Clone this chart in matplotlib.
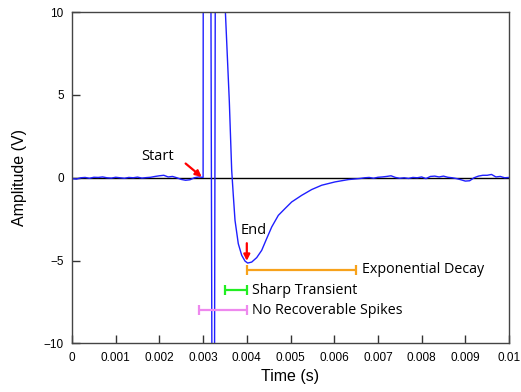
import matplotlib.pyplot as plt
import numpy as np

# baseline noise before the event, every 0.1 ms from 0 to 3.0 ms
pre_t = np.arange(0, 31) * 0.0001
pre_v = [-0.05, -0.08, 0.0, 0.02, -0.03, 0.03, 0.02, 0.05, 0.0, -0.02,
         0.03, 0.0, -0.03, 0.02, 0.0, 0.04, -0.02, 0.01, 0.03, 0.08,
         0.12, 0.15, 0.05, 0.08, 0.0, -0.1, -0.15, -0.12, 0.0, 0.05, 0.02]

# spikes and the decay that follows
event_t = [0.00301, 0.00315, 0.00323, 0.00324, 0.00330, 0.00342, 0.00351,
           0.00360, 0.003654, 0.003691, 0.00373, 0.003805, 0.003883,
           0.003959, 0.00402, 0.004112, 0.004227, 0.004341, 0.004455,
           0.00457, 0.004721, 0.004874, 0.005027, 0.005256, 0.005485,
           0.005714, 0.006018, 0.006323]
event_v = [40, 40, -40, -40, 40, 40, 10,
           4.6, 0.45, -1.06, -2.57, -3.98, -4.68,
           -5.03, -5.15, -5.09, -4.82, -4.38, -3.67,
           -2.97, -2.27, -1.86, -1.46, -1.06, -0.71,
           -0.45, -0.25, -0.11]

# baseline noise after the event, 6.6 ms to 10 ms
post_t = 0.0066 + np.arange(0, 35) * 0.0001
post_v = [-0.04, 0.0, 0.02, -0.03, 0.03, 0.05, 0.08, 0.12, 0.02, -0.03,
          0.0, -0.04, 0.02, 0.0, 0.05, -0.05, 0.08, 0.1, 0.05, 0.1,
          0.03, 0.0, -0.05, -0.12, -0.2, -0.18, 0.0, 0.1, 0.15, 0.15,
          0.2, 0.05, 0.08, 0.0, 0.02]

t = np.concatenate([pre_t, event_t, post_t])
v = np.concatenate([pre_v, event_v, post_v])

# labelled time ranges: (label, start, end, level, colour)
ranges = [
	('Exponential Decay', 0.0040, 0.0065, -5.55, '#f7a21b'),
	('Sharp Transient', 0.0035, 0.0040, -6.8, '#22ee22'),
	('No Recoverable Spikes', 0.0029, 0.0040, -8.0, '#ee88ee'),
]

xticks = [i * 0.001 for i in range(11)]
xlabels = ['0', '0.001', '0.002', '0.003', '0.004', '0.005',
           '0.006', '0.007', '0.008', '0.009', '0.01']
yticks = [-10, -5, 0, 5, 10]

plt.rcParams['font.family'] = ['Liberation Sans', 'DejaVu Sans']
ann_font = ['Open Sans', 'DejaVu Sans']

fig = plt.figure(figsize=(5.21, 3.92), dpi=100)
ax = fig.add_axes([0.1382, 0.124, 0.8388, 0.845])

ax.axhline(0, color='black', lw=1, zorder=1)
ax.plot(t, v, color='#1f1fff', lw=1, zorder=2)

for label, x0, x1, y, c in ranges:
	ax.errorbar([(x0 + x1) / 2], [y], xerr=[(x1 - x0) / 2], color=c,
	            lw=1.6, capsize=3.5, capthick=1.6, zorder=3)
	ax.text(x1 + 0.00013, y, label, family=ann_font, fontsize=10.3,
	        va='center', ha='left')

ax.annotate('', xy=(0.002968, 0.05), xytext=(0.0026, 0.86),
            arrowprops=dict(arrowstyle='-|>', color='red', lw=1.6,
                            mutation_scale=9, shrinkA=0, shrinkB=0))
ax.text(0.00196, 1.3, 'Start', family=ann_font, fontsize=10.5,
        ha='center', va='center')

ax.annotate('', xy=(0.0040, -5.02), xytext=(0.0040, -3.95),
            arrowprops=dict(arrowstyle='-|>', color='red', lw=1.6,
                            mutation_scale=9, shrinkA=0, shrinkB=0))
ax.text(0.00416, -3.2, 'End', family=ann_font, fontsize=10.5,
        ha='center', va='center')

ax.set_xlim(0, 0.01)
ax.set_ylim(-10, 10)
ax.set_xticks(xticks)
ax.set_xticklabels(xlabels)
ax.set_yticks(yticks)
ax.tick_params(direction='in', length=6, width=1, labelsize=8.5,
               color='#333333', pad=6)
for s in ax.spines.values():
	s.set_color('#444444')
	s.set_linewidth(1)

ax.set_xlabel('Time (s)', fontsize=11.5, labelpad=4)
ax.set_ylabel('Amplitude (V)', fontsize=11.5, labelpad=12)

fig.savefig('out.png', dpi=100)
